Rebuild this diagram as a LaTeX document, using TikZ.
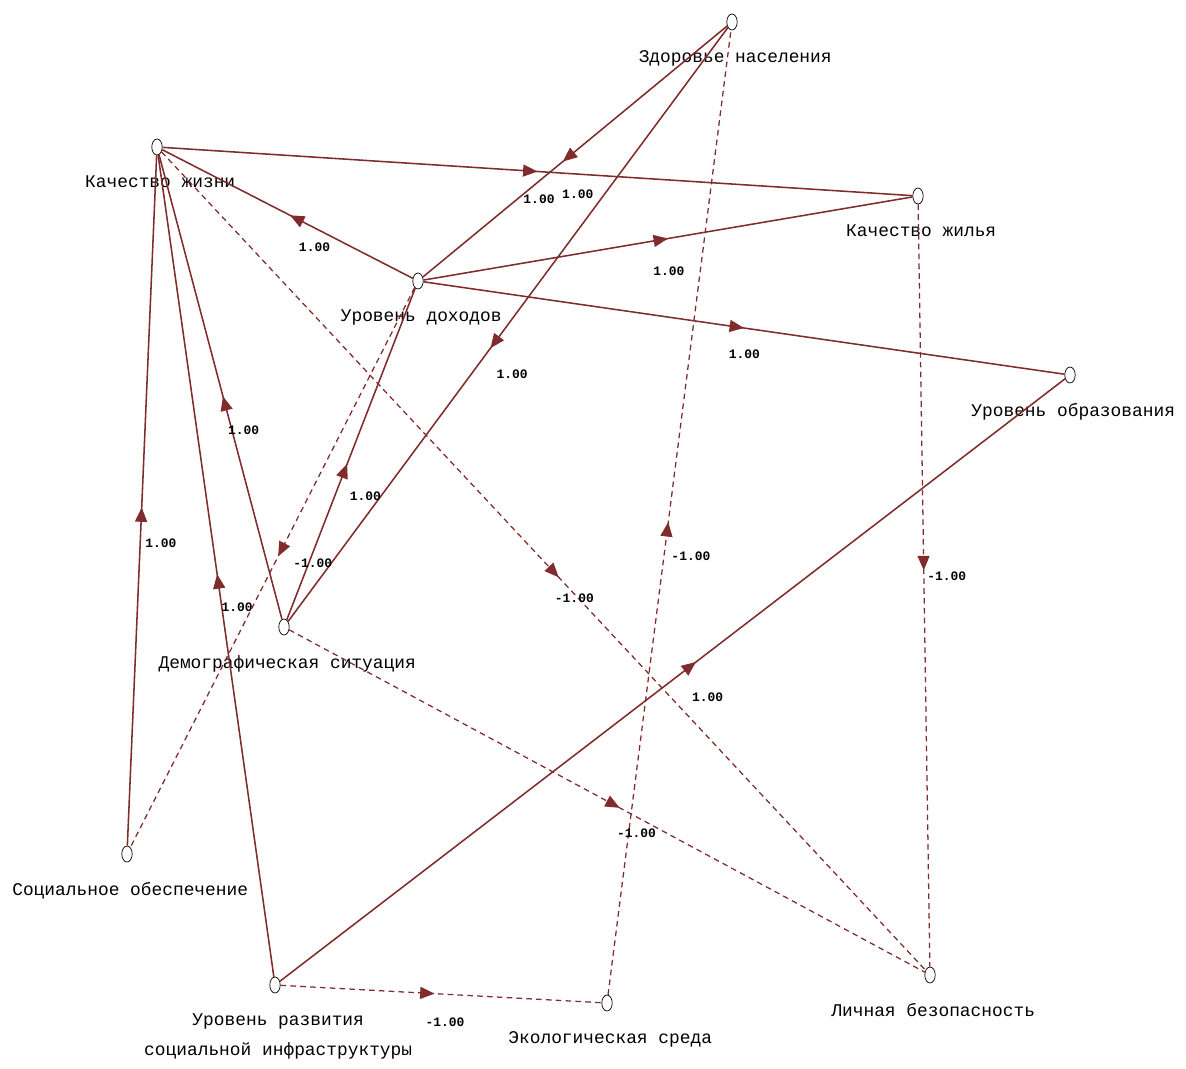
\documentclass[tikz,border=0pt]{standalone}
\usepackage{fontspec}
\newfontfamily\monofont{Liberation Mono}
\usetikzlibrary{arrows.meta,decorations.markings,shapes.geometric,positioning}
\definecolor{edgered}{RGB}{128,44,44}

\tikzset{
  vertex/.style={ellipse, draw=black, fill=white, line width=0.5pt,
    minimum width=0.26cm, minimum height=0.4cm, inner sep=0pt},
  vname/.style={font=\monofont\fontsize{12.7}{21.5}\selectfont, inner sep=0pt,
    align=center, xshift=0.08cm},
  wlabel/.style={font=\monofont\bfseries\fontsize{9.2}{10}\selectfont,
    anchor=north west, inner sep=0pt, xshift=0.08cm, yshift=-0.6cm},
  poslink/.style={draw=edgered, line width=1.1pt},
  neglink/.style={draw=edgered, line width=0.9pt, dash pattern=on 4pt off 3pt},
  midarrow/.style={postaction={decorate}, decoration={markings,
    mark=at position #1 with {\arrow[edgered]{Triangle[length=0.36cm,width=0.3cm]}}}}
}

\begin{document}
\begin{tikzpicture}[x=0.025cm, y=-0.025cm]
\useasboundingbox (0,0) rectangle (1186,1068);

% vertices
\node[vertex] (kzh) at (157,147) {};
\node[vertex] (zdr) at (732,22) {};
\node[vertex] (kjl) at (918,196) {};
\node[vertex] (dox) at (418,281) {};
\node[vertex] (obr) at (1070,375) {};
\node[vertex] (dem) at (284,627) {};
\node[vertex] (soc) at (127,854) {};
\node[vertex] (raz) at (275,985) {};
\node[vertex] (eko) at (607,1003) {};
\node[vertex] (bez) at (930,975) {};

% vertex names
\node[vname, below=0.5cm of kzh] (kzh-t) {Качество жизни};
\node[vname, below=0.5cm of zdr] (zdr-t) {Здоровье населения};
\node[vname, below=0.5cm of kjl] (kjl-t) {Качество жилья};
\node[vname, below=0.5cm of dox] (dox-t) {Уровень доходов};
\node[vname, below=0.5cm of obr] (obr-t) {Уровень образования};
\node[vname, below=0.5cm of dem] (dem-t) {Демографическая ситуация};
\node[vname, below=0.5cm of soc] (soc-t) {Социальное обеспечение};
\node[vname, below=0.5cm of raz] (raz-t) {Уровень развития\\социальной инфраструктуры};
\node[vname, below=0.5cm of eko] (eko-t) {Экологическая среда};
\node[vname, below=0.5cm of bez] (bez-t) {Личная безопасность};

% positive links
\draw[poslink, midarrow=0.5] (kzh) -- node[wlabel, pos=0.476] {1.00} (kjl);
\draw[poslink, midarrow=0.49] (dox) -- node[wlabel, pos=0.47] {1.00} (kzh);
\draw[poslink, midarrow=0.54] (zdr) -- node[wlabel, pos=0.555] {1.00} (dox);
\draw[poslink, midarrow=0.5] (dox) -- node[wlabel, pos=0.462] {1.00} (kjl);
\draw[poslink, midarrow=0.5] (dox) -- node[wlabel, pos=0.47] {1.00} (obr);
\draw[poslink, midarrow=0.54] (zdr) -- node[wlabel, pos=0.535] {1.00} (dem);
\draw[poslink, midarrow=0.47] (dem) -- node[wlabel, pos=0.46] {1.00} (dox);
\draw[poslink, midarrow=0.48] (dem) -- node[wlabel, pos=0.47] {1.00} (kzh);
\draw[poslink, midarrow=0.49] (soc) -- node[wlabel, pos=0.48] {1.00} (kzh);
\draw[poslink, midarrow=0.49] (raz) -- node[wlabel, pos=0.485] {1.00} (kzh);
\draw[poslink, midarrow=0.53] (raz) -- node[wlabel, pos=0.52] {1.00} (obr);

% negative links
\draw[neglink, midarrow=0.48] (dox) -- node[wlabel, pos=0.44] {-1.00} (soc);
\draw[neglink, midarrow=0.52] (kzh) -- node[wlabel, pos=0.51] {-1.00} (bez);
\draw[neglink, midarrow=0.48] (raz) -- node[wlabel, pos=0.44] {-1.00} (eko);
\draw[neglink, midarrow=0.49] (eko) -- node[wlabel, pos=0.485] {-1.00} (zdr);
\draw[neglink, midarrow=0.48] (kjl) -- node[wlabel, pos=0.45] {-1.00} (bez);
\draw[neglink, midarrow=0.52] (dem) -- node[wlabel, pos=0.51] {-1.00} (bez);
\end{tikzpicture}
\end{document}
